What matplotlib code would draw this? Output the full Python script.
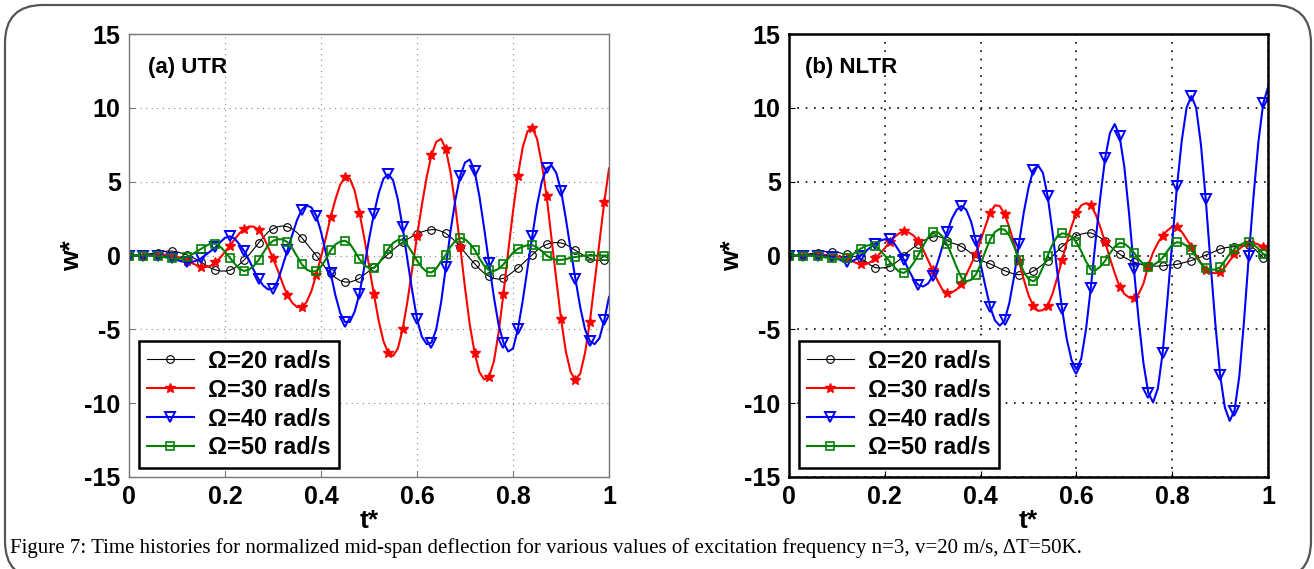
import numpy as np
import matplotlib
matplotlib.use("Agg")
import matplotlib.pyplot as plt
from matplotlib.patches import FancyBboxPatch
from matplotlib.transforms import IdentityTransform

# time grid (t*), values every 0.01
t = np.round(np.linspace(0, 1, 101), 2)

# (a) UTR
utr_20 = [0, 0, 0.02, 0.05, 0.1, 0.15, 0.2, 0.25, 0.3, 0.3,
          0.25, 0.15, 0.05, -0.1, -0.25, -0.45, -0.65, -0.85, -0.97, -1.05,
          -1.05, -1.0, -0.85, -0.6, -0.3, 0.05, 0.45, 0.85, 1.25, 1.6,
          1.8, 1.95, 2.0, 1.95, 1.8, 1.55, 1.2, 0.8, 0.4, 0.0,
          -0.45, -0.85, -1.2, -1.5, -1.7, -1.8, -1.8, -1.7, -1.55, -1.3,
          -1.05, -0.8, -0.5, -0.2, 0.1, 0.4, 0.65, 0.9, 1.1, 1.3,
          1.45, 1.6, 1.7, 1.75, 1.75, 1.65, 1.5, 1.25, 0.95, 0.6,
          0.2, -0.2, -0.55, -0.9, -1.2, -1.4, -1.55, -1.6, -1.55, -1.35,
          -1.1, -0.85, -0.55, -0.25, 0.05, 0.35, 0.6, 0.75, 0.85, 0.88,
          0.85, 0.75, 0.55, 0.35, 0.15, -0.05, -0.2, -0.3, -0.33, -0.33,
          -0.35]
utr_30 = [0, 0, 0, 0, 0.02, 0.04, 0.06, 0.06, 0.04, 0.0,
          -0.08, -0.2, -0.35, -0.5, -0.65, -0.75, -0.78, -0.7, -0.45, -0.15,
          0.25, 0.65, 1.1, 1.5, 1.8, 1.97, 1.95, 1.75, 1.25, 0.55,
          -0.2, -1.0, -1.9, -2.7, -3.2, -3.5, -3.5, -3.15, -2.4, -1.3,
          -0.1, 1.2, 2.6, 3.8, 4.8, 5.3, 5.2, 4.4, 2.9, 1.2,
          -0.7, -2.6, -4.4, -5.8, -6.6, -6.8, -6.3, -5.0, -3.1, -0.9,
          1.3, 3.4, 5.3, 6.8, 7.7, 7.9, 7.2, 5.6, 3.3, 0.6,
          -2.2, -4.7, -6.6, -7.9, -8.4, -8.2, -7.2, -5.2, -2.6, 0.3,
          3.0, 5.4, 7.3, 8.4, 8.65, 7.9, 6.2, 4.0, 1.2, -1.6,
          -4.3, -6.5, -7.9, -8.4, -8.0, -6.6, -4.5, -1.8, 0.9, 3.6,
          5.9]
utr_40 = [0, 0, 0, 0, 0, 0, -0.02, -0.05, -0.1, -0.2,
          -0.3, -0.4, -0.45, -0.45, -0.35, -0.2, 0.05, 0.3, 0.55, 0.9,
          1.2, 1.3, 1.15, 0.75, 0.3, -0.3, -1.0, -1.6, -2.05, -2.3,
          -2.25, -1.7, -0.7, 0.35, 1.4, 2.4, 3.1, 3.4, 3.25, 2.7,
          1.6, 0.2, -1.2, -2.7, -3.9, -4.5, -4.5, -3.8, -2.6, -0.8,
          1.1, 2.8, 4.2, 5.2, 5.5, 5.1, 3.8, 1.9, -0.3, -2.4,
          -4.3, -5.5, -6.0, -5.9, -5.0, -3.2, -0.8, 1.7, 3.8, 5.4,
          6.3, 6.5, 5.7, 4.0, 1.8, -0.5, -2.8, -4.7, -5.9, -6.5,
          -6.3, -5.0, -3.1, -0.9, 1.3, 3.4, 5.0, 5.9, 6.1, 5.6,
          4.4, 2.5, 0.4, -1.6, -3.5, -5.0, -5.8, -6.0, -5.6, -4.4,
          -2.8]
utr_50 = [0, 0, 0, 0, 0, -0.02, -0.05, -0.1, -0.15, -0.2,
          -0.22, -0.2, -0.12, 0.05, 0.25, 0.45, 0.65, 0.8, 0.8, 0.6,
          0.25, -0.15, -0.55, -0.9, -1.05, -0.95, -0.7, -0.3, 0.2, 0.7,
          1.0, 1.1, 1.1, 0.9, 0.5, -0.05, -0.6, -0.95, -1.1, -1.05,
          -0.75, -0.25, 0.35, 0.75, 0.95, 1.0, 0.8, 0.3, -0.25, -0.65,
          -0.85, -0.85, -0.55, -0.05, 0.45, 0.85, 1.05, 1.05, 0.7, 0.2,
          -0.35, -0.8, -1.1, -1.15, -0.9, -0.4, 0.05, 0.6, 1.0, 1.2,
          1.1, 0.8, 0.4, -0.2, -0.7, -1.0, -1.05, -0.9, -0.6, -0.2,
          0.2, 0.45, 0.6, 0.7, 0.7, 0.55, 0.3, 0.0, -0.2, -0.3,
          -0.3, -0.25, -0.15, -0.1, -0.05, 0, 0, 0, 0, 0,
          0]

# (b) NLTR
nltr_20 = [0, 0, 0.02, 0.05, 0.1, 0.15, 0.2, 0.25, 0.27, 0.27,
           0.22, 0.15, 0.08, 0.0, -0.1, -0.2, -0.4, -0.65, -0.82, -0.85,
           -0.82, -0.75, -0.55, -0.3, 0.0, 0.3, 0.55, 0.78, 1.0, 1.15,
           1.25, 1.3, 1.2, 1.0, 0.85, 0.75, 0.6, 0.4, 0.15, -0.1,
           -0.3, -0.45, -0.57, -0.72, -0.88, -1.03, -1.15, -1.25, -1.3, -1.28,
           -1.2, -1.06, -0.85, -0.6, -0.34, -0.05, 0.3, 0.6, 0.9, 1.15,
           1.33, 1.45, 1.52, 1.53, 1.4, 1.2, 0.96, 0.65, 0.35, 0.1,
           -0.12, -0.3, -0.44, -0.55, -0.65, -0.7, -0.72, -0.72, -0.7, -0.66,
           -0.63, -0.6, -0.52, -0.43, -0.34, -0.22, -0.1, 0.02, 0.15, 0.3,
           0.44, 0.52, 0.57, 0.6, 0.65, 0.68, 0.68, 0.5, 0.2, -0.15,
           -0.25]
nltr_30 = [0, 0, 0, 0, 0.02, 0.04, 0.05, 0.05, 0.03, 0.0,
           -0.05, -0.12, -0.2, -0.35, -0.5, -0.6, -0.6, -0.45, -0.2, 0.15,
           0.5, 0.9, 1.25, 1.5, 1.63, 1.55, 1.35, 0.95, 0.4, -0.3,
           -1.0, -1.7, -2.3, -2.55, -2.5, -2.3, -1.95, -1.3, -0.6, 0.1,
           1.0, 2.0, 2.9, 3.4, 3.35, 2.8, 1.9, 0.8, -0.4, -1.6,
           -2.7, -3.4, -3.75, -3.7, -3.4, -2.6, -1.5, -0.3, 0.9, 2.0,
           2.9, 3.4, 3.55, 3.4, 2.8, 1.9, 0.9, -0.2, -1.2, -2.1,
           -2.6, -2.85, -2.9, -2.6, -1.9, -0.7, 0.2, 0.85, 1.35, 1.7,
           1.95, 1.95, 1.6, 1.1, 0.6, 0.0, -0.5, -1.0, -1.15, -1.2,
           -1.15, -0.8, -0.35, 0.1, 0.45, 0.7, 0.88, 0.85, 0.75, 0.6,
           0.5]
nltr_40 = [0, 0, 0, 0, 0, 0, 0, -0.02, -0.05, -0.1,
           -0.2, -0.35, -0.45, -0.4, -0.25, 0.0, 0.3, 0.55, 0.8, 1.0,
           1.1, 1.1, 0.8, 0.3, -0.3, -1.0, -1.6, -2.0, -2.1, -1.9,
           -1.4, -0.5, 0.6, 1.6, 2.5, 3.1, 3.35, 3.1, 2.3, 1.0,
           -0.6, -2.1, -3.5, -4.4, -4.75, -4.4, -3.2, -1.4, 0.8, 2.9,
           4.6, 5.8, 6.1, 5.6, 4.0, 1.6, -1.1, -3.6, -5.7, -7.1,
           -7.7, -7.0, -5.0, -2.2, 1.0, 4.0, 6.6, 8.3, 8.9, 8.1,
           6.0, 2.8, -0.9, -4.4, -7.3, -9.3, -9.95, -9.0, -6.6, -3.0,
           0.9, 4.7, 7.8, 10.0, 10.8, 10.0, 7.5, 3.8, -0.5, -4.6,
           -8.1, -10.3, -11.2, -10.5, -8.2, -4.4, 0.0, 4.1, 7.7, 10.3,
           11.4]
nltr_50 = [0, 0, 0, 0, 0, -0.02, -0.05, -0.1, -0.15, -0.2,
           -0.25, -0.25, -0.2, 0.0, 0.25, 0.47, 0.65, 0.72, 0.65, 0.35,
           0.0, -0.4, -0.8, -1.1, -1.18, -0.95, -0.5, 0.05, 0.65, 1.2,
           1.6, 1.6, 1.3, 0.75, 0.0, -0.8, -1.5, -1.75, -1.65, -1.3,
           -0.6, 0.3, 1.1, 1.6, 1.8, 1.75, 1.35, 0.6, -0.3, -1.1,
           -1.6, -1.75, -1.5, -0.8, 0.0, 0.75, 1.3, 1.5, 1.45, 1.25,
           0.9, 0.3, -0.4, -0.95, -1.0, -0.75, -0.35, 0.15, 0.6, 0.85,
           0.8, 0.55, 0.2, -0.25, -0.6, -0.75, -0.65, -0.45, -0.15, 0.3,
           0.75, 0.9, 0.85, 0.65, 0.35, -0.1, -0.55, -0.85, -0.95, -0.95,
           -0.8, -0.35, 0.1, 0.45, 0.7, 0.85, 0.9, 0.75, 0.45, 0.1,
           0.0]

labels = ["\u03A9=20 rad/s", "\u03A9=30 rad/s", "\u03A9=40 rad/s", "\u03A9=50 rad/s"]
panel_titles = ["(a) UTR", "(b) NLTR"]
caption = ("Figure 7: Time histories for normalized mid-span deflection for various values "
           "of excitation frequency n=3, v=20 m/s, \u0394T=50K.")

styles = [
    dict(color="black", marker="o", ms=5.5, mfc="none", lw=0.8, mew=0.8),
    dict(color="#ff0000", marker="*", ms=7, mfc="#ff0000", lw=1.5, mew=1.0),
    dict(color="#0000ff", marker="v", ms=7, mfc="none", lw=1.5, mew=1.4),
    dict(color="#008000", marker="s", ms=5.5, mfc="none", lw=1.5, mew=1.2),
]

plt.rcParams["font.family"] = ["Liberation Sans", "DejaVu Sans"]
plt.rcParams["font.weight"] = "bold"
plt.rcParams["axes.unicode_minus"] = False

fig = plt.figure(figsize=(13.14, 5.69), dpi=100)
fig.patch.set_facecolor("white")

ax_a = fig.add_axes([0.0982, 0.1617, 0.3653, 0.7785])
ax_b = fig.add_axes([0.6005, 0.1617, 0.3645, 0.7785])

panels = [(ax_a, [utr_20, utr_30, utr_40, utr_50], "#777777", "#888888", 1.0),
          (ax_b, [nltr_20, nltr_30, nltr_40, nltr_50], "black", "black", 1.8)]

for i, (ax, series, frame_col, grid_col, frame_lw) in enumerate(panels):
    for y, lab, st in zip(series, labels, styles):
        ax.plot(t, y, label=lab, markevery=3, **st)
    ax.set_xlim(0, 1)
    ax.set_ylim(-15, 15)
    ax.set_xticks([0, 0.2, 0.4, 0.6, 0.8, 1])
    ax.set_xticklabels(["0", "0.2", "0.4", "0.6", "0.8", "1"])
    ax.set_yticks([-15, -10, -5, 0, 5, 10, 15])
    ax.grid(True, linestyle=(0, (1, 4)), color=grid_col, lw=1.2 if i else 0.8)
    ax.tick_params(direction="in", length=4, labelsize=18, pad=6, color=frame_col)
    for lab in ax.get_xticklabels() + ax.get_yticklabels():
        lab.set_fontweight("bold")
    for sp in ax.spines.values():
        sp.set_color(frame_col)
        sp.set_linewidth(frame_lw)
    ax.set_xlabel("t*", fontsize=19, fontweight="bold", labelpad=0)
    ax.set_ylabel("w*", fontsize=19, fontweight="bold", labelpad=0)
    ax.text(0.04 if i == 0 else 0.033, 0.925, panel_titles[i], transform=ax.transAxes,
            fontsize=16, fontweight="bold", va="center", ha="left")
    leg = ax.legend(loc="lower left", bbox_to_anchor=(0.005, 0.005), fontsize=17,
                    handlelength=2.0, handletextpad=0.6, labelspacing=0.25,
                    borderpad=0.35, borderaxespad=0.3, fancybox=False, framealpha=1,
                    edgecolor="black")
    leg.get_frame().set_linewidth(1.8)
    for txt in leg.get_texts():
        txt.set_fontweight("bold")

fig.text(10 / 1314, 1 - 548 / 569, caption, fontsize=15,
         family=["Liberation Serif", "DejaVu Serif"], fontweight="normal",
         ha="left", va="center")

# rounded outer frame
frame = FancyBboxPatch((5, -10), 1306, 574, boxstyle="round,pad=0,rounding_size=38",
                       transform=IdentityTransform(), fill=False, edgecolor="#555555",
                       lw=1.6)
fig.patches.append(frame)

fig.savefig("out.png", dpi=100)
